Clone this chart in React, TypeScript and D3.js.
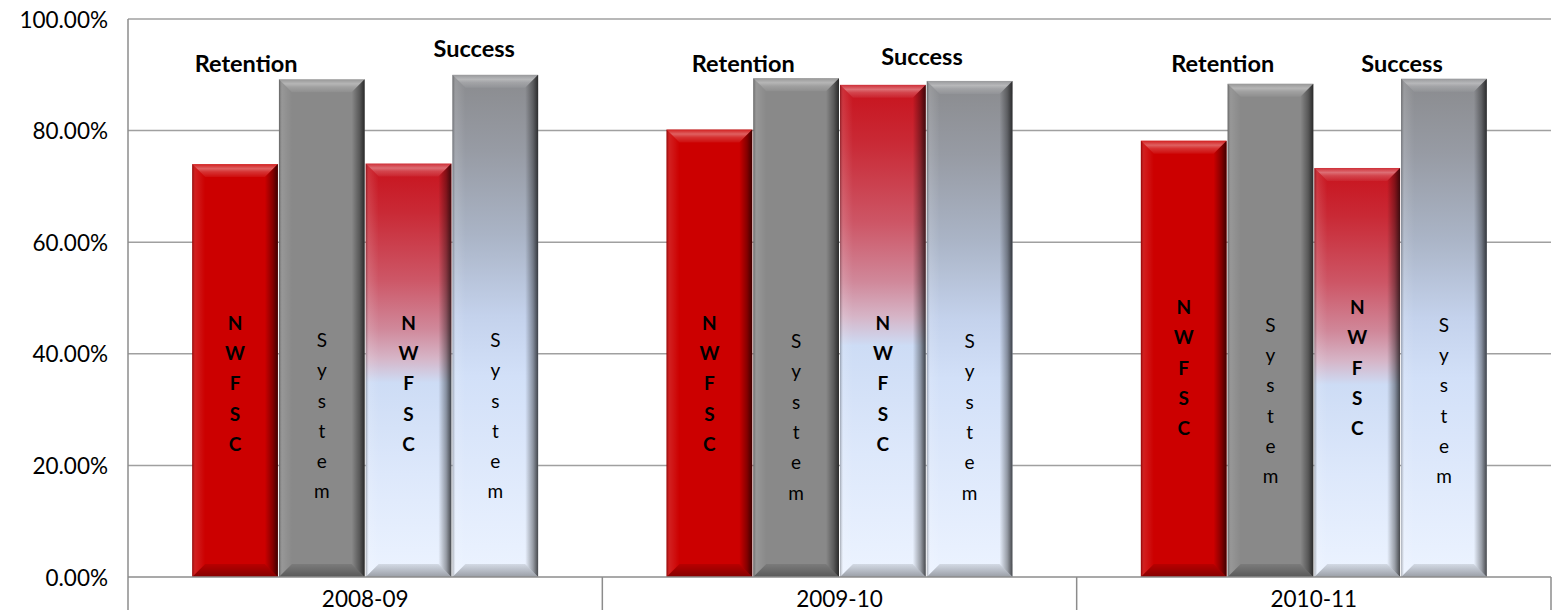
import React from "react";
import * as d3 from "d3";

const years = ["2008-09", "2009-10", "2010-11"];
const series = ["NWFSC Retention", "System Retention", "NWFSC Success", "System Success"];
const nwfscRetention = [74.0, 80.2, 78.2];
const systemRetention = [89.2, 89.4, 88.4];
const nwfscSuccess = [74.1, 88.2, 73.3];
const systemSuccess = [90.0, 88.9, 89.3];
const yTicks = [0, 20, 40, 60, 80, 100];
const barText = ["NWFSC", "System", "NWFSC", "System"];
// annotation positions: fraction inside year band, value-space y of baseline
const retentionPos = [[0.249, 90.5], [0.297, 90.5], [0.308, 90.5]];
const successPos = [[0.73, 93.2], [0.674, 91.7], [0.686, 90.5]];
// value-space centre of in-bar vertical text [NWFSC, System]
const innerTextCenter = [[34.8, 29.0], [34.8, 28.8], [37.6, 31.7]];

const W = 1556, H = 610;
const L = 128, R = 1551, T = 19, B = 577;

export default function App() {
  const x0 = d3.scaleBand<string>().domain(years).range([L, R]).padding(0);
  const x1 = d3.scaleBand<string>().domain(series).range([0, x0.bandwidth()]).paddingInner(0.012).paddingOuter(0.74);
  const y = d3.scaleLinear().domain([0, 100]).range([B, T]);
  const values = [nwfscRetention, systemRetention, nwfscSuccess, systemSuccess];
  const fills = ["#cc0000", "#898989", "url(#gSuccN)", "url(#gSuccS)"];
  const font = "Lato, 'Open Sans', sans-serif";

  const bars: React.ReactNode[] = [];
  years.forEach((yr, gi) => {
    series.forEach((s, si) => {
      const v = values[si][gi];
      const x = (x0(yr) as number) + (x1(s) as number);
      const w = x1.bandwidth();
      const yt = y(v);
      const h = B - yt;
      const b = Math.min(13, h / 2);
      const key = `${gi}-${si}`;
      const letters = barText[si].split("");
      const isN = si % 2 === 0;
      const cy = y(innerTextCenter[gi][isN ? 0 : 1]);
      const sp = 30.3;
      bars.push(
        <g key={key}>
          <rect x={x} y={yt} width={w} height={h} fill={fills[si]} />
          <polygon points={`${x},${yt} ${x + w},${yt} ${x + w - b},${yt + b} ${x + b},${yt + b}`} fill="url(#gTop)" />
          <polygon points={`${x + w},${yt} ${x + w},${B} ${x + w - b},${B - b} ${x + w - b},${yt + b}`} fill="url(#gRight)" />
          <polygon points={`${x},${yt} ${x + b},${yt + b} ${x + b},${B - b} ${x},${B}`} fill="url(#gLeft)" />
          <polygon points={`${x},${B} ${x + w},${B} ${x + w - b},${B - b} ${x + b},${B - b}`} fill="url(#gBottom)" />
          {letters.map((c, li) => (
            <text key={li} x={x + w / 2} y={cy + (li - (letters.length - 1) / 2) * sp} textAnchor="middle"
              dominantBaseline="central" fontFamily={font} fontSize={19} fontWeight={isN ? 700 : 400} fill="#000">{c}</text>
          ))}
        </g>
      );
    });
  });

  return (
    <svg width={W} height={H} style={{ position: "absolute", left: 0, top: 0, background: "#fff" }}>
      <defs>
        <linearGradient id="gSuccN" x1="0" y1="0" x2="0" y2="1">
          <stop offset="0" stopColor="#c8121c" />
          <stop offset="0.12" stopColor="#c92a36" />
          <stop offset="0.28" stopColor="#cd5666" />
          <stop offset="0.40" stopColor="#d0889a" />
          <stop offset="0.47" stopColor="#d6b4c6" />
          <stop offset="0.53" stopColor="#cddcf5" />
          <stop offset="0.75" stopColor="#dde8fb" />
          <stop offset="1" stopColor="#ecf3ff" />
        </linearGradient>
        <linearGradient id="gSuccS" x1="0" y1="0" x2="0" y2="1">
          <stop offset="0" stopColor="#8a8b8e" />
          <stop offset="0.15" stopColor="#979ba4" />
          <stop offset="0.32" stopColor="#aab4c6" />
          <stop offset="0.48" stopColor="#c4d2ec" />
          <stop offset="0.6" stopColor="#d2e0f8" />
          <stop offset="1" stopColor="#ecf3ff" />
        </linearGradient>
        <linearGradient id="gTop" x1="0" y1="0" x2="0" y2="1">
          <stop offset="0" stopColor="#fff" stopOpacity="0.12" />
          <stop offset="0.35" stopColor="#fff" stopOpacity="0.38" />
          <stop offset="0.6" stopColor="#fff" stopOpacity="0.2" />
          <stop offset="1" stopColor="#fff" stopOpacity="0.05" />
        </linearGradient>
        <linearGradient id="gRight" x1="0" y1="0" x2="1" y2="0">
          <stop offset="0" stopColor="#000" stopOpacity="0" />
          <stop offset="0.6" stopColor="#000" stopOpacity="0.35" />
          <stop offset="1" stopColor="#000" stopOpacity="0.7" />
        </linearGradient>
        <linearGradient id="gLeft" x1="0" y1="0" x2="1" y2="0">
          <stop offset="0" stopColor="#000" stopOpacity="0.3" />
          <stop offset="0.25" stopColor="#fff" stopOpacity="0.12" />
          <stop offset="1" stopColor="#fff" stopOpacity="0" />
        </linearGradient>
        <linearGradient id="gBottom" x1="0" y1="0" x2="0" y2="1">
          <stop offset="0" stopColor="#000" stopOpacity="0.1" />
          <stop offset="1" stopColor="#000" stopOpacity="0.35" />
        </linearGradient>
      </defs>

      {yTicks.filter(t => t > 0).map(t => (
        <line key={t} x1={L} x2={R} y1={y(t)} y2={y(t)} stroke="#a0a0a0" strokeWidth={1.5} />
      ))}
      {yTicks.map(t => (
        <text key={"l" + t} x={108} y={y(t)} textAnchor="end" dominantBaseline="central"
          fontFamily={font} fontSize={22.5} fill="#000">{t.toFixed(2) + "%"}</text>
      ))}

      {bars}

      <line x1={L} x2={L} y1={T} y2={H} stroke="#8c8c8c" strokeWidth={1.5} />
      <line x1={L} x2={R} y1={B} y2={B} stroke="#8c8c8c" strokeWidth={1.5} />
      {years.map((yr, i) => (
        <g key={"c" + yr}>
          <line x1={(x0(yr) as number) + x0.bandwidth()} x2={(x0(yr) as number) + x0.bandwidth()} y1={B} y2={H}
            stroke="#8c8c8c" strokeWidth={1.5} />
          <text x={(x0(yr) as number) + x0.bandwidth() / 2} y={B + 21} textAnchor="middle" dominantBaseline="central"
            fontFamily={font} fontSize={22.5} fill="#000">{yr}</text>
        </g>
      ))}

      {years.map((yr, i) => (
        <g key={"a" + yr}>
          <text x={(x0(yr) as number) + retentionPos[i][0] * x0.bandwidth()} y={y(retentionPos[i][1])}
            textAnchor="middle" fontFamily={font} fontSize={23.5} fontWeight={700} fill="#000">Retention</text>
          <text x={(x0(yr) as number) + successPos[i][0] * x0.bandwidth()} y={y(successPos[i][1])}
            textAnchor="middle" fontFamily={font} fontSize={23.5} fontWeight={700} fill="#000">Success</text>
        </g>
      ))}
    </svg>
  );
}
